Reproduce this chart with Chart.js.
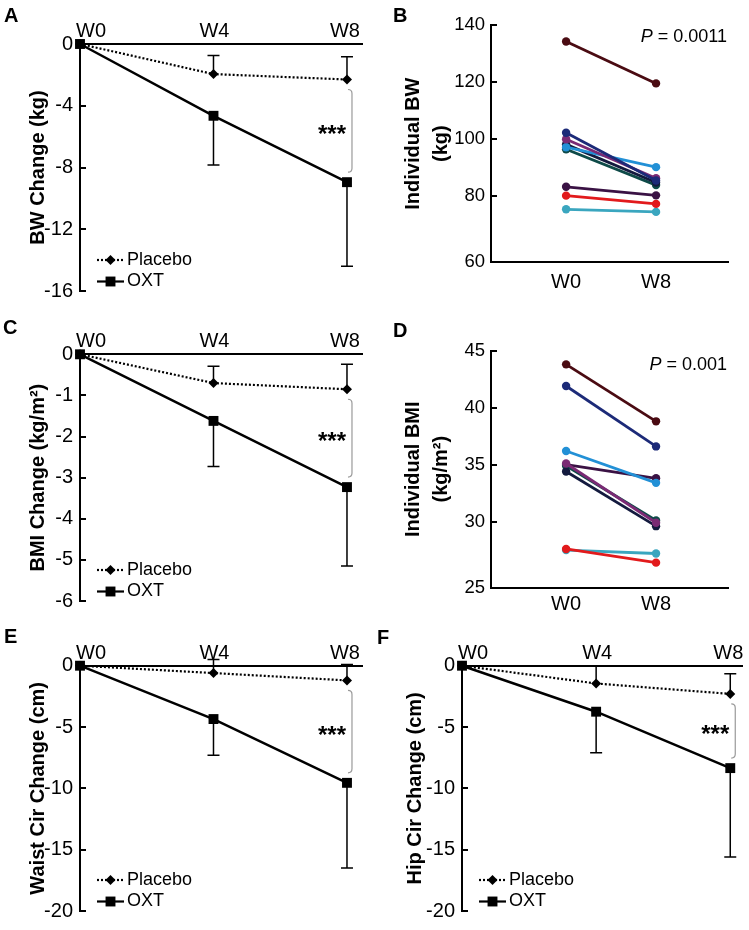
<!DOCTYPE html>
<html>
<head>
<meta charset="utf-8">
<script src="https://cdn.jsdelivr.net/npm/chart.js@4.4.1/dist/chart.umd.min.js"></script>
<style>
  body { margin: 0; background: #fff; width: 749px; height: 930px; position: relative; overflow: hidden; }
  canvas { position: absolute; }
</style>
</head>
<body>
<canvas id="chartA" width="375" height="310" style="left:0;top:0"></canvas>
<canvas id="chartB" width="374" height="310" style="left:375px;top:0"></canvas>
<canvas id="chartC" width="375" height="310" style="left:0;top:310px"></canvas>
<canvas id="chartD" width="374" height="310" style="left:375px;top:310px"></canvas>
<canvas id="chartE" width="375" height="310" style="left:0;top:620px"></canvas>
<canvas id="chartF" width="374" height="310" style="left:375px;top:620px"></canvas>
<script>
// ================= DATA =================
const weeks = [0, 4, 8];
const weekLabels = ["W0", "W4", "W8"];
const seriesNames = ["Placebo", "OXT"];

// A - body weight change (kg)
const bwPlacebo = [0, -1.95, -2.3];
const bwPlaceboSD = [0, 1.2, 1.47];
const bwOxt = [0, -4.65, -8.95];
const bwOxtSD = [0, 3.18, 5.45];
const bwChangeTicks = [-16, -12, -8, -4, 0];

// C - BMI change (kg/m2)
const bmiPlacebo = [0, -0.7, -0.85];
const bmiPlaceboSD = [0, 0.41, 0.61];
const bmiOxt = [0, -1.62, -3.23];
const bmiOxtSD = [0, 1.11, 1.92];
const bmiChangeTicks = [-6, -5, -4, -3, -2, -1, 0];

// E - waist circumference change (cm)
const waistPlacebo = [0, -0.6, -1.2];
const waistPlaceboSD = [0, 1.1, 1.3];
const waistOxt = [0, -4.35, -9.55];
const waistOxtSD = [0, 2.95, 6.95];
const waistTicks = [-20, -15, -10, -5, 0];

// F - hip circumference change (cm)
const hipPlacebo = [0, -1.45, -2.3];
const hipPlaceboSD = [0, 1.45, 1.65];
const hipOxt = [0, -3.75, -8.35];
const hipOxtSD = [0, 3.35, 7.25];
const hipTicks = [-20, -15, -10, -5, 0];

// B / D - individual subjects, W0 -> W8
const timeLabels = ["W0", "W8"];
const subjectColors = ["#4a0b12", "#1c2a78", "#7a2a74", "#2290d6", "#131a3e", "#0e4a48", "#3a1244", "#e21a1c", "#3aa6bf"];
const bwW0 = [134.2, 102.2, 99.9, 97.1, 98.1, 96.4, 83.2, 80.1, 75.3];
const bwW8 = [119.5, 85.4, 86.2, 90.1, 84.7, 83.8, 80.2, 77.2, 74.4];
const bwTickLabels = ["60", "80", "100", "120", "140"];
const bmiW0 = [43.8, 41.9, 35.1, 36.2, 34.4, 34.9, 35.0, 27.6, 27.5];
const bmiW8 = [38.8, 36.6, 29.9, 33.4, 29.6, 30.1, 33.8, 26.4, 27.2];
const bmiTickLabels = ["25", "30", "35", "40", "45"];

// ================= COMMON =================
const FONT = '"Liberation Sans", Arial, Helvetica, sans-serif';
Chart.defaults.font.family = FONT;
Chart.defaults.color = "#000";

function drawLetter(ctx, p) {
  ctx.save();
  ctx.font = "bold 20px " + FONT;
  ctx.fillStyle = "#000";
  ctx.textBaseline = "alphabetic";
  ctx.fillText(p.letter, p.letterX, p.letterY);
  ctx.restore();
}

// short tick marks pointing into the plot
function inwardTicks(chart, skipFirst) {
  const ctx = chart.ctx, ys = chart.scales.y;
  const x = chart.chartArea.left;
  ctx.save();
  ctx.strokeStyle = "#000";
  ctx.lineWidth = 2;
  ys.ticks.forEach((t, i) => {
    if (skipFirst && i === 0) return;
    const y = Math.round(ys.getPixelForValue(t.value));
    ctx.beginPath();
    ctx.moveTo(x, y);
    ctx.lineTo(x + 6, y);
    ctx.stroke();
  });
  ctx.restore();
}

// ================= CHANGE PANELS (A, C, E, F) =================
function changeExtras(p) {
  return {
    id: "changeExtras",
    beforeDatasetsDraw(chart) {
      // error bars: placebo up, OXT down
      const ctx = chart.ctx, xs = chart.scales.x, ys = chart.scales.y;
      ctx.save();
      ctx.strokeStyle = "#000";
      ctx.lineWidth = 1.5;
      chart.data.datasets.forEach(ds => {
        ds.sd.forEach((sd, i) => {
          if (!sd) return;
          const v = ds.data[i].y;
          const x = xs.getPixelForValue(weeks[i]);
          const y0 = ys.getPixelForValue(v);
          const y1 = ys.getPixelForValue(v + ds.dir * sd);
          ctx.beginPath();
          ctx.moveTo(x, y0);
          ctx.lineTo(x, y1);
          ctx.moveTo(x - 6, y1);
          ctx.lineTo(x + 6, y1);
          ctx.stroke();
        });
      });
      ctx.restore();
    },
    afterDraw(chart) {
      const ctx = chart.ctx, xs = chart.scales.x, ys = chart.scales.y, area = chart.chartArea;
      inwardTicks(chart, false);

      // week labels above the top axis
      ctx.save();
      ctx.font = "20px " + FONT;
      ctx.fillStyle = "#000";
      ctx.textAlign = "center";
      ctx.textBaseline = "middle";
      weeks.forEach((w, i) => {
        const dx = i === 0 ? 11 : (i === 2 ? -2 : 1);
        ctx.fillText(weekLabels[i], xs.getPixelForValue(w) + dx, area.top - 12.5);
      });
      ctx.restore();

      // significance bracket at W8
      const xb = xs.getPixelForValue(8) + 5;
      const yTop = ys.getPixelForValue(p.placebo[2]) + 10;
      const yBot = ys.getPixelForValue(p.oxt[2]) - 10;
      ctx.save();
      ctx.strokeStyle = "#9a9a9a";
      ctx.lineWidth = 1.2;
      ctx.beginPath();
      ctx.moveTo(xb - 4, yTop);
      ctx.quadraticCurveTo(xb, yTop, xb, yTop + 4);
      ctx.lineTo(xb, yBot - 4);
      ctx.quadraticCurveTo(xb, yBot, xb - 4, yBot);
      ctx.stroke();
      ctx.font = "bold 24px " + FONT;
      ctx.fillStyle = "#000";
      ctx.textAlign = "right";
      ctx.textBaseline = "alphabetic";
      ctx.fillText("***", xs.getPixelForValue(8) - 1, (yTop + yBot) / 2 + 11);
      ctx.restore();

      // legend, bottom left
      const rows = [area.bottom - 31, area.bottom - 9.5];
      const x0 = area.left + 17;
      seriesNames.forEach((name, k) => {
        const ds = chart.data.datasets.find(d => d.label === name);
        const y = rows[k];
        ctx.save();
        ctx.strokeStyle = "#000";
        ctx.lineWidth = 2.2;
        ctx.setLineDash(ds.borderDash || []);
        ctx.beginPath();
        ctx.moveTo(x0, y);
        ctx.lineTo(x0 + 27, y);
        ctx.stroke();
        ctx.setLineDash([]);
        ctx.fillStyle = "#000";
        Chart.helpers.drawPoint(ctx, { pointStyle: ds.pointStyle, radius: ds.pointRadius, rotation: 0, borderWidth: 0 }, x0 + 13.5, y);
        ctx.font = "18px " + FONT;
        ctx.textBaseline = "middle";
        ctx.textAlign = "left";
        ctx.fillText(name, area.left + 47, y);
        ctx.restore();
      });

      drawLetter(ctx, p);
    }
  };
}

function changeChart(id, p) {
  const datasets = [
    {
      label: seriesNames[0],
      data: weeks.map((w, i) => ({ x: w, y: p.placebo[i] })),
      sd: p.placeboSD, dir: 1,
      borderColor: "#000", backgroundColor: "#000", borderWidth: 2.2, borderDash: [2, 2],
      pointStyle: "rectRot", pointRadius: 5, pointBackgroundColor: "#000", pointBorderWidth: 0,
      order: 2, clip: false
    },
    {
      label: seriesNames[1],
      data: weeks.map((w, i) => ({ x: w, y: p.oxt[i] })),
      sd: p.oxtSD, dir: -1,
      borderColor: "#000", backgroundColor: "#000", borderWidth: 2.5, borderDash: [],
      pointStyle: "rect", pointRadius: 7, pointBackgroundColor: "#000", pointBorderWidth: 0,
      order: 1, clip: false
    }
  ];
  return new Chart(document.getElementById(id), {
    type: "line",
    data: { datasets },
    options: {
      responsive: false,
      animation: false,
      layout: { padding: { top: 0, left: 0, right: p.padR, bottom: p.padB } },
      plugins: { legend: { display: false }, tooltip: { enabled: false } },
      scales: {
        x: {
          type: "linear", position: "top", min: 0, max: p.xMax,
          ticks: { display: false },
          grid: { display: false, drawTicks: false },
          border: { color: "#000", width: 2 },
          afterFit: s => { s.height = p.top; }
        },
        y: {
          type: "linear",
          min: p.ticks[0], max: p.ticks[p.ticks.length - 1],
          afterBuildTicks: s => { s.ticks = p.ticks.map(v => ({ value: v })); },
          ticks: { font: { size: 20 }, color: "#000", padding: 7 },
          grid: { display: false, drawTicks: false },
          border: { color: "#000", width: 2 },
          title: {
            display: true, text: p.title, color: "#000",
            font: { size: 20, weight: "bold" },
            padding: { top: p.titlePad, bottom: 0 }
          },
          afterFit: s => { s.width = p.left; }
        }
      }
    },
    plugins: [changeExtras(p)]
  });
}

// ================= INDIVIDUAL PANELS (B, D) =================
function indivExtras(p) {
  return {
    id: "indivExtras",
    afterDraw(chart) {
      const ctx = chart.ctx;
      inwardTicks(chart, true);
      // P value, italic P
      ctx.save();
      ctx.fillStyle = "#000";
      ctx.textBaseline = "middle";
      ctx.font = "18px " + FONT;
      const rest = " = " + p.pValue;
      const wRest = ctx.measureText(rest).width;
      ctx.font = "italic 18px " + FONT;
      const wP = ctx.measureText("P").width;
      const x0 = p.pRight - wRest - wP;
      ctx.fillText("P", x0, p.pY);
      ctx.font = "18px " + FONT;
      ctx.fillText(rest, x0 + wP, p.pY);
      ctx.restore();
      drawLetter(ctx, p);
    }
  };
}

function indivChart(id, p) {
  const datasets = p.w0.map((v, i) => ({
    data: [{ x: 1, y: v }, { x: 2, y: p.w8[i] }],
    borderColor: subjectColors[i], backgroundColor: subjectColors[i],
    pointBackgroundColor: subjectColors[i], pointBorderWidth: 0,
    pointRadius: 4.2, borderWidth: 2.8, clip: false
  }));
  return new Chart(document.getElementById(id), {
    type: "line",
    data: { datasets },
    options: {
      responsive: false,
      animation: false,
      layout: { padding: { top: p.top, left: 0, right: p.padR, bottom: 0 } },
      plugins: { legend: { display: false }, tooltip: { enabled: false } },
      scales: {
        x: {
          type: "linear", min: 0.165, max: 2.8,
          afterBuildTicks: s => { s.ticks = [{ value: 1 }, { value: 2 }]; },
          ticks: { callback: (v, i) => timeLabels[i], font: { size: 20 }, color: "#000", padding: p.xPad },
          grid: { display: false, drawTicks: false },
          border: { color: "#000", width: 2 },
          afterFit: s => { s.height = p.xH; }
        },
        y: {
          type: "linear", min: p.min, max: Number(p.tickLabels[p.tickLabels.length - 1]),
          afterBuildTicks: s => {
            s.ticks = p.tickLabels.map((t, i) => ({ value: i === 0 ? p.min : Number(t) }));
          },
          ticks: { callback: (v, i) => p.tickLabels[i], font: { size: 18.5 }, color: "#000", padding: 6 },
          grid: { display: false, drawTicks: false },
          border: { color: "#000", width: 2 },
          title: {
            display: true, text: p.title, color: "#000",
            font: { size: 20, weight: "bold", lineHeight: 1.43 },
            padding: { top: 23.7, bottom: 0 }
          },
          afterFit: s => { s.width = p.left; }
        }
      }
    },
    plugins: [indivExtras(p)]
  });
}

// ================= BUILD =================
changeChart("chartA", {
  placebo: bwPlacebo, placeboSD: bwPlaceboSD, oxt: bwOxt, oxtSD: bwOxtSD, ticks: bwChangeTicks,
  title: "BW Change (kg)", left: 80, top: 44, padR: 13, padB: 14, xMax: 8.45, titlePad: 26,
  letter: "A", letterX: 4, letterY: 22
});
indivChart("chartB", {
  w0: bwW0, w8: bwW8, tickLabels: bwTickLabels, min: 56.7,
  title: ["Individual BW", "(kg)"], left: 116, top: 25, padR: 21, xH: 47.7, xPad: 8,
  pValue: "0.0011", pRight: 352, pY: 37,
  letter: "B", letterX: 18, letterY: 22
});
changeChart("chartC", {
  placebo: bmiPlacebo, placeboSD: bmiPlaceboSD, oxt: bmiOxt, oxtSD: bmiOxtSD, ticks: bmiChangeTicks,
  title: "BMI Change (kg/m²)", left: 80, top: 44.3, padR: 13, padB: 12.3, xMax: 8.45, titlePad: 26,
  letter: "C", letterX: 3, letterY: 24
});
indivChart("chartD", {
  w0: bmiW0, w8: bmiW8, tickLabels: bmiTickLabels, min: 24.2,
  title: ["Individual BMI", "(kg/m²)"], left: 116, top: 40.7, padR: 21, xH: 32.3, xPad: 5,
  pValue: "0.001", pRight: 352, pY: 55,
  letter: "D", letterX: 18, letterY: 26.5
});
changeChart("chartE", {
  placebo: waistPlacebo, placeboSD: waistPlaceboSD, oxt: waistOxt, oxtSD: waistOxtSD, ticks: waistTicks,
  title: "Waist Cir Change (cm)", left: 80, top: 45.7, padR: 13, padB: 13.3, xMax: 8.45, titlePad: 26,
  letter: "E", letterX: 4, letterY: 23
});
changeChart("chartF", {
  placebo: hipPlacebo, placeboSD: hipPlaceboSD, oxt: hipOxt, oxtSD: hipOxtSD, ticks: hipTicks,
  title: "Hip Cir Change (cm)", left: 87, top: 45.7, padR: 7, padB: 11.5, xMax: 8.35, titlePad: 28,
  letter: "F", letterX: 2, letterY: 23.5
});
</script>
</body>
</html>
